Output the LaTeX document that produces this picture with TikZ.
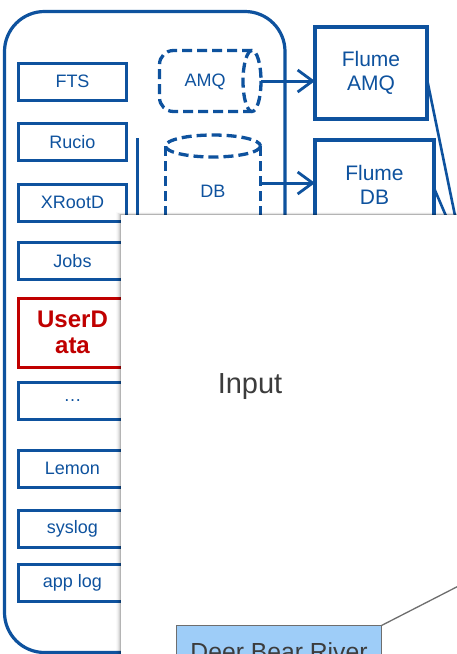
\documentclass[tikz,border=0pt]{standalone}
\usepackage{fontspec}
\setmainfont{Liberation Sans}
\usetikzlibrary{arrows.meta}
\definecolor{cblue}{RGB}{14,82,158}
\definecolor{cred}{RGB}{192,0,0}
\definecolor{ctxt}{RGB}{60,60,60}
\definecolor{cdeer}{RGB}{158,205,248}
\definecolor{cgrayline}{RGB}{110,110,110}
\begin{document}
\begin{tikzpicture}[x=1pt,y=-1pt,
  srcbox/.style={draw=cblue, line width=3pt, minimum width=108pt, minimum height=37pt,
    inner sep=0pt, outer sep=0pt, text=cblue, font=\fontsize{18}{21}\selectfont},
  redbox/.style={srcbox, draw=cred, text=cred, align=center,
    font=\fontsize{24}{26}\selectfont\bfseries},
  flumebox/.style={draw=cblue, line width=4.2pt, inner sep=0pt, outer sep=0pt,
    text=cblue, align=center, font=\fontsize{21}{24}\selectfont},
  dashline/.style={draw=cblue, line width=3.3pt, dash pattern=on 10pt off 5pt},
  blueline/.style={draw=cblue, line width=3pt},
  barrow/.style={blueline, -{Straight Barb[length=15pt,width=22pt,line width=2.8pt]}},
  bluelabel/.style={text=cblue, font=\fontsize{18}{21}\selectfont, inner sep=0pt},
  grayline/.style={draw=cgrayline, line width=1.3pt}]
\useasboundingbox (0,0) rectangle (457,654);
\clip (0,0) rectangle (457,654);
\fill[white] (0,0) rectangle (457,654);

% outer container
\draw[blueline, line width=3.2pt, rounded corners=40pt] (4.5,11.5) rectangle (285,652.5);

% source boxes
\node[srcbox] (fts)    at (72.5,81.5)  {FTS};
\node[srcbox] (rucio)  at (72.5,142)   {Rucio};
\node[srcbox] (xrootd) at (72.5,202.5) {XRootD};
\node[srcbox] (jobs)   at (72.5,261)   {Jobs};
\node[redbox, minimum height=69pt] (user) at (72.5,332.5) {UserD\\ata};
\node[srcbox] (dots)   at (72.5,401)   {\dots};
\node[srcbox] (lemon)  at (72.5,468.5) {Lemon};
\node[srcbox] (syslog) at (72.5,528.5) {syslog};
\node[srcbox] (applog) at (72.5,582.5) {app log};

% vertical line
\coordinate (vtop) at (137,138);
\coordinate (vbot) at (137,240);
\draw[blueline] (vtop) -- (vbot);

% AMQ horizontal cylinder
\draw[dashline, rounded corners=14pt] (252,50.5) -- (159.5,50.5) -- (159.5,111.5) -- (252,111.5);
\draw[dashline] (252,81) ellipse [x radius=9, y radius=30.5];
\node[bluelabel] (amq) at (205,82) {AMQ};
\coordinate (amqR) at (261,81);

% DB vertical cylinder
\draw[dashline] (213,146) ellipse [x radius=47.5, y radius=11];
\draw[dashline] (165.5,146) -- (165.5,260);
\draw[dashline] (260.5,146) -- (260.5,260);
\node[bluelabel] (db) at (213,191.5) {DB};
\coordinate (dbR) at (261,183);

% Flume boxes
\node[flumebox, minimum width=112pt, minimum height=92pt] (famq) at (371,73) {Flume\\AMQ};
\node[flumebox, minimum width=119pt, minimum height=90pt] (fdb) at (374.5,185) {Flume\\DB};

% arrows
\draw[barrow] (amqR) -- (amqR -| famq.west);
\draw[barrow] (dbR) -- (dbR -| fdb.west);

% diagonal lines from flume boxes
\coordinate (d1) at (460,240);
\coordinate (d2) at (449,223);
\draw[blueline, line width=2.6pt] ([yshift=-6pt]famq.east) -- (d1);
\draw[blueline, line width=2.6pt] ([yshift=-3pt]fdb.east) -- (d2);

% overlay panel with shadow
\foreach \i/\o in {1/0.14,2/0.08,3/0.05,4/0.03,5/0.02}
  \fill[black, opacity=\o] ({121-\i},{215-0.6*\i}) rectangle (470,670);
\fill[white] (121,215) rectangle (470,670);

\node[text=ctxt, font=\fontsize{29}{32}\selectfont, inner sep=0pt, anchor=base] (input) at (250,393) {Input};

% Deer Bear River box
\node[draw=cgrayline, line width=1.3pt, fill=cdeer, anchor=north west, minimum width=205pt,
  minimum height=52pt, inner sep=0pt, outer sep=0pt, text=ctxt,
  font=\fontsize{24.7}{28}\selectfont] (deer) at (176.5,625.5) {Deer Bear River};
\coordinate (g1) at (480,575);
\draw[grayline] (deer.north east) -- (g1);
\end{tikzpicture}
\end{document}
